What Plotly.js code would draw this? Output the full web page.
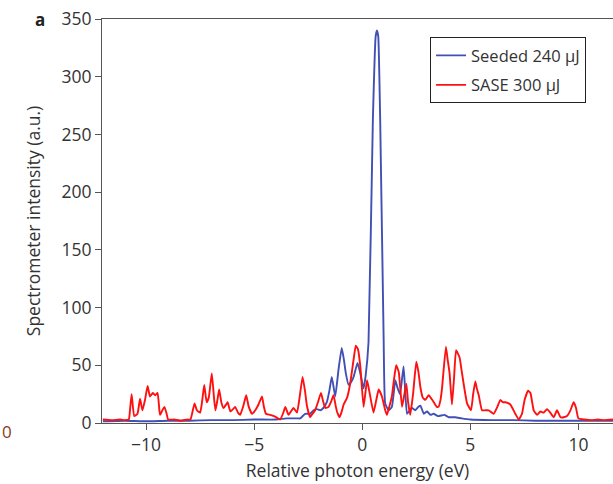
<!DOCTYPE html>
<html>
<head>
<meta charset="utf-8">
<script src="https://cdn.plot.ly/plotly-3.0.1.min.js"></script>
<style>html,body{margin:0;padding:0;background:#fff;}#chart{width:613px;height:484px;}</style>
</head>
<body>
<div id="chart"></div>
<script>
// Seeded 240 µJ spectrum (relative photon energy eV, intensity a.u.)
const seededX = [-12.0,-11,-10,-9,-8,-7,-6,-5,-4,-3.5,-3.0,-2.87,-2.64,-2.41,-2.25,-2.1,-1.94,-1.8,-1.64,-1.52,-1.41,-1.25,-1.1,-0.95,-0.85,-0.76,-0.63,-0.5,-0.4,-0.22,-0.09,0.06,0.15,0.29,0.49,0.62,0.68,0.74,0.83,0.99,1.06,1.22,1.37,1.45,1.53,1.64,1.75,1.91,1.98,2.07,2.2,2.3,2.45,2.6,2.69,2.85,3.0,3.15,3.3,3.5,3.8,4.0,4.3,4.6,5.0,6,7,8,9,10,11,11.6];
const seededY = [1.5,2,1.5,2,2,2.5,2.5,3,3,4,4,4,8,8,11,12,11,13,18,28,40,23,46,65,55,43,33,36,40,52,43,30,40,70,262,335,340,335,262,72,17,11,14,25,37,30,25,49,30,8,11,13,11,14,15,8,10,7,8,6,7,5,5,4,3,2.5,2.5,2,2,2,2,2];

// SASE 300 µJ spectrum
const saseX = [-12.0,-11.6,-11.2,-11.0,-10.8,-10.75,-10.67,-10.55,-10.4,-10.28,-10.17,-10.05,-9.93,-9.82,-9.69,-9.58,-9.47,-9.38,-9.35,-9.22,-9.15,-9.05,-8.98,-8.7,-8.4,-8.1,-7.95,-7.85,-7.76,-7.65,-7.5,-7.4,-7.31,-7.2,-7.1,-6.96,-6.85,-6.79,-6.7,-6.62,-6.52,-6.42,-6.3,-6.23,-6.1,-5.98,-5.88,-5.75,-5.65,-5.5,-5.37,-5.25,-5.1,-4.95,-4.8,-4.64,-4.55,-4.46,-4.26,-4.03,-3.8,-3.65,-3.56,-3.41,-3.3,-3.18,-3.02,-2.9,-2.76,-2.65,-2.56,-2.41,-2.3,-2.18,-2.05,-1.91,-1.8,-1.71,-1.56,-1.45,-1.33,-1.22,-1.17,-1.05,-0.95,-0.86,-0.7,-0.56,-0.4,-0.3,-0.2,-0.09,0.06,0.14,0.22,0.3,0.37,0.52,0.65,0.76,0.91,1.05,1.14,1.25,1.37,1.47,1.57,1.69,1.84,1.95,2.04,2.12,2.22,2.35,2.5,2.6,2.69,2.8,2.92,3.07,3.2,3.31,3.45,3.53,3.62,3.69,3.87,3.95,4.04,4.15,4.25,4.34,4.5,4.6,4.69,4.85,5.03,5.13,5.23,5.3,5.39,5.54,5.7,5.85,6.08,6.25,6.39,6.5,6.62,6.85,7.08,7.24,7.39,7.51,7.67,7.78,7.93,8.09,8.24,8.39,8.55,8.7,8.86,9.01,9.17,9.32,9.47,9.63,9.78,9.89,10.0,10.3,10.6,10.9,11.2,11.6];
const saseY = [3,2.5,3,2.5,3,10,25,6,8,21,11,20,32,23,26,24,26,10,7,12,14,8,3,3,2,3,3,10,17,11,9,20,33,18,22,43,20,11,20,29,18,13,16,18,10,12,14,9,7,15,24,14,8,11,16,23,14,8,7,5.5,3,9,14,7,10,13,9,22,40,28,15,5,8,11,18,26,18,13,14,18,24,14,10,5,10,16,22,34,55,67,64,49,14,25,37,30,23,9,20,29,23,12,7,14,23,38,50,44,14,25,34,18,7,25,53,44,31,22,20,24,21,18,14,14,20,30,66,55,43,16,40,63,57,45,34,17,11,25,36,30,24,11,11,11,8,14,20,18,18,16,8,3,8,20,28,26,11,7,10,9,12,9,5,11,5,5,6,11,18,13,4,3,2.5,3,2.5,3];

const legendNames = ['Seeded 240 μJ', 'SASE 300 μJ'];
const xTicks = [-10, -5, 0, 5, 10];
const xTickText = ['\u221210', '\u22125', '0', '5', '10'];
const yTicks = [0, 50, 100, 150, 200, 250, 300, 350];

const font = 'Open Sans, Lato, sans-serif';
const traces = [
  {x: seededX, y: seededY, type: 'scatter', mode: 'lines', name: legendNames[0], legendgroup: 'g1',
   line: {color: '#4150b4', width: 1.9, shape: 'spline', smoothing: 0.4}},
  {x: saseX, y: saseY, type: 'scatter', mode: 'lines', name: legendNames[1], legendgroup: 'g2',
   line: {color: '#ff1010', width: 1.9, shape: 'spline', smoothing: 0.4}}
];
const layout = {
  width: 613, height: 484,
  margin: {l: 102, r: 0, t: 19, b: 61},
  paper_bgcolor: '#fff', plot_bgcolor: '#fff',
  font: {family: font, size: 16, color: '#333'},
  showlegend: true,
  legend: {x: 0.642, y: 0.955, xanchor: 'left', yanchor: 'top', traceorder: 'grouped', tracegroupgap: 5,
    bgcolor: '#fff', bordercolor: '#222', borderwidth: 1,
    font: {family: font, size: 16.5, color: '#333'}},
  xaxis: {range: [-12.04, 11.6], tickvals: xTicks, ticktext: xTickText,
    ticks: 'outside', ticklen: 6, tickcolor: '#555', showline: true, linecolor: '#555', linewidth: 1,
    mirror: true, showgrid: false, zeroline: false,
    tickfont: {family: font, size: 17.5, color: '#333'},
    title: {text: 'Relative photon energy (eV)', font: {family: font, size: 17.5, color: '#333'}, standoff: 9}},
  yaxis: {range: [0, 350], tickvals: yTicks,
    ticks: 'outside', ticklen: 6, tickcolor: '#555', showline: true, linecolor: '#555', linewidth: 1,
    showgrid: false, zeroline: false,
    tickfont: {family: font, size: 17.5, color: '#333'},
    title: {text: 'Spectrometer intensity (a.u.)', font: {family: font, size: 17.5, color: '#333'}, standoff: 16}},
  annotations: [
    {text: '<b>a</b>', xref: 'paper', yref: 'paper', x: -0.121, y: 1.0, xanchor: 'center', yanchor: 'middle',
     showarrow: false, font: {family: font, size: 17, color: '#222'}},
    {text: '0', xref: 'paper', yref: 'paper', x: -0.2, y: -0.02, xanchor: 'left', yanchor: 'middle',
     showarrow: false, font: {family: font, size: 17, color: '#8a3a22'}}
  ]
};
Plotly.newPlot('chart', traces, layout, {displayModeBar: false, staticPlot: true});
</script>
</body>
</html>
